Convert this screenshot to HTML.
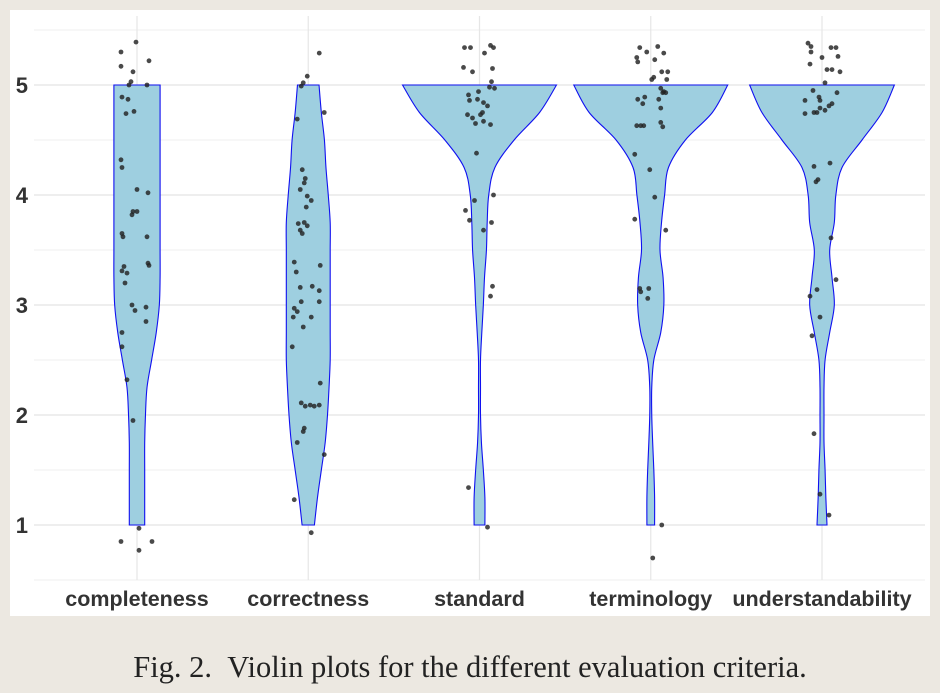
<!DOCTYPE html>
<html><head><meta charset="utf-8">
<style>
html,body{margin:0;padding:0;background:#ece8e1;}
body{width:940px;height:693px;position:relative;overflow:hidden;}
#panel{position:absolute;left:10px;top:10px;width:920px;height:606px;background:#fff;}
#cap{position:absolute;left:0;width:940px;top:650px;text-align:center;font-family:"Liberation Serif",serif;font-size:30.5px;color:#222;}
</style></head>
<body>
<div id="panel"></div>
<svg id="chart" width="940" height="693" style="position:absolute;left:0;top:0"></svg>
<div id="cap">Fig. 2.&nbsp;&nbsp;Violin plots for the different evaluation criteria.</div>
<script>
const categories=["completeness","correctness","standard","terminology","understandability"];
const densityLevels=[1,1.25,1.5,1.75,2,2.25,2.5,2.75,3,3.25,3.5,3.75,4,4.25,4.5,4.75,5];
// relative half-widths (1 = widest violin)
const densCompleteness=[0.10,0.10,0.10,0.10,0.11,0.13,0.19,0.25,0.29,0.30,0.30,0.30,0.30,0.30,0.30,0.30,0.30];
const densCorrectness=[0.08,0.12,0.17,0.22,0.25,0.27,0.285,0.285,0.285,0.285,0.285,0.285,0.26,0.23,0.21,0.17,0.14];
const densStandard=[0.07,0.07,0.05,0.025,0.013,0.013,0.013,0.03,0.05,0.065,0.09,0.10,0.12,0.2,0.45,0.78,1.0];
const densTerminology=[0.05,0.05,0.04,0.025,0.013,0.013,0.04,0.13,0.17,0.16,0.12,0.14,0.18,0.23,0.45,0.8,1.0];
const densUnderstand=[0.065,0.05,0.04,0.026,0.026,0.026,0.04,0.10,0.16,0.13,0.10,0.16,0.18,0.26,0.52,0.78,0.94];
const densities=[densCompleteness,densCorrectness,densStandard,densTerminology,densUnderstand];
// points: jitter (in 1/171 category units) and score
const jitCompleteness=[-1,-16,12,-16,-4,-6,-8,10,-15,-9,-11,-3,-16,-15,0,11,-4,0,-5,-15,-14,10,11,12,-13,-15,-10,-12,-5,9,-2,9,-15,-15,-10,-4,2,-16,15,2];
const valCompleteness=[5.39,5.3,5.22,5.17,5.12,5.03,5.0,5.0,4.89,4.87,4.74,4.76,4.32,4.25,4.05,4.02,3.85,3.85,3.82,3.65,3.62,3.62,3.38,3.36,3.35,3.31,3.29,3.2,3.0,2.98,2.95,2.85,2.75,2.62,2.32,1.95,0.97,0.85,0.85,0.77];
const jitCorrectness=[11,-1,-5,-7,16,-11,-6,-3,-4,-8,-1,3,-2,-10,-4,-1,-8,-6,-14,12,-12,4,11,-8,-7,11,-14,-11,-15,3,-5,-16,12,-7,-3,2,6,11,-5,-4,-11,16,-14,3];
const valCorrectness=[5.29,5.08,5.02,4.99,4.75,4.69,4.23,4.15,4.11,4.05,3.99,3.95,3.89,3.74,3.75,3.72,3.68,3.65,3.39,3.36,3.3,3.17,3.13,3.16,3.03,3.03,2.97,2.94,2.89,2.89,2.8,2.62,2.29,2.11,2.08,2.09,2.08,2.09,1.85,1.88,1.75,1.64,1.23,0.93];
const jitStandard=[-15,-9,11,14,5,-16,-7,13,12,10,15,-11,-1,-10,-2,4,8,-12,-7,3,1,-4,11,4,-3,-5,14,-14,-10,12,4,13,11,-11,8];
const valStandard=[5.34,5.34,5.36,5.34,5.29,5.16,5.12,5.15,5.03,4.98,4.97,4.91,4.94,4.86,4.87,4.84,4.81,4.73,4.7,4.75,4.73,4.65,4.64,4.67,4.38,3.95,4.0,3.86,3.77,3.75,3.68,3.17,3.08,1.34,0.98];
const jitTerminology=[-11,7,-4,13,-14,4,-13,17,11,3,1,16,10,-6,-13,12,15,13,8,-8,10,-14,-10,-7,10,12,-16,-1,4,-16,15,-11,-10,-3,-2,11,2];
const valTerminology=[5.34,5.35,5.3,5.29,5.25,5.23,5.21,5.12,5.12,5.07,5.05,5.05,4.97,4.89,4.87,4.93,4.93,4.94,4.87,4.83,4.79,4.63,4.63,4.63,4.66,4.62,4.37,4.23,3.98,3.78,3.68,3.15,3.12,3.06,3.15,1.0,0.7];
const jitUnderstand=[-14,-11,-11,9,14,0,16,-12,5,10,18,3,-9,15,-3,-2,-17,10,-5,-17,-8,7,3,-2,-8,8,-4,-6,9,14,-12,-5,-2,-10,-8,-2,7];
const valUnderstand=[5.38,5.35,5.3,5.34,5.34,5.25,5.26,5.19,5.14,5.14,5.12,5.02,4.95,4.93,4.89,4.86,4.86,4.83,4.75,4.74,4.75,4.81,4.77,4.79,4.26,4.29,4.14,4.12,3.61,3.23,3.08,3.14,2.89,2.72,1.83,1.28,1.09];
const jitters=[jitCompleteness,jitCorrectness,jitStandard,jitTerminology,jitUnderstand];
const values=[valCompleteness,valCorrectness,valStandard,valTerminology,valUnderstand];
const yTicks=[1,2,3,4,5];

const NS="http://www.w3.org/2000/svg";
const svg=document.getElementById('chart');
const X0=137, BAND=171.25, MAXW=77;
const xs=i=>X0+i*BAND;
const ys=v=>85+(5-v)*110;
function mk(tag,attrs){const e=document.createElementNS(NS,tag);for(const k in attrs)e.setAttribute(k,attrs[k]);svg.appendChild(e);return e;}
for(let v=0.5;v<=5.5;v+=0.5){
  const g=mk('line',{x1:34,x2:925,y1:ys(v),y2:ys(v),stroke:Number.isInteger(v)?'#e4e4e4':'#efefef','stroke-width':Number.isInteger(v)?1.2:1});
  
  
}
categories.forEach((c,i)=>{
  const g=mk('line',{x1:xs(i),x2:xs(i),y1:16,y2:580,stroke:'#e6e6e6','stroke-width':1.2});
  
  
});
yTicks.forEach(t=>{
  const tx=mk('text',{x:28,y:ys(t)+8,'text-anchor':'end','font-family':'Liberation Sans, sans-serif','font-weight':'bold','font-size':22,fill:'#333'});
  tx.textContent=t;
  
  
});
function smooth(pts){
  let d='';
  for(let i=0;i<pts.length-1;i++){
    const p0=pts[Math.max(i-1,0)],p1=pts[i],p2=pts[i+1],p3=pts[Math.min(i+2,pts.length-1)];
    const c1=[p1[0]+(p2[0]-p0[0])/6,p1[1]+(p2[1]-p0[1])/6];
    const c2=[p2[0]-(p3[0]-p1[0])/6,p2[1]-(p3[1]-p1[1])/6];
    d+=` C${c1[0]},${c1[1]} ${c2[0]},${c2[1]} ${p2[0]},${p2[1]}`;
  }
  return d;
}
categories.forEach((c,i)=>{
  const cx=xs(i),dens=densities[i];
  const right=densityLevels.map((v,k)=>[cx+dens[k]*MAXW,ys(v)]);
  const left=densityLevels.map((v,k)=>[cx-dens[k]*MAXW,ys(v)]).reverse();
  let d=`M${right[0][0]},${right[0][1]}`+smooth(right)+` L${left[0][0]},${left[0][1]}`+smooth(left)+'Z';
  const p=mk('path',{d:d,fill:'#9ecfe0',stroke:'#1010f0','stroke-width':1.1});
  
  
});
categories.forEach((c,i)=>{
  values[i].forEach((v,k)=>{
    const pt=mk('circle',{cx:xs(i)+jitters[i][k],cy:ys(v),r:2.4,fill:'#222','fill-opacity':0.82});
    
    
  });
  const t=mk('text',{x:xs(i),y:606,'text-anchor':'middle','font-family':'Liberation Sans, sans-serif','font-weight':'bold','font-size':21.5,fill:'#333'});
  t.textContent=c;
  
  
});
</script>
</body></html>
